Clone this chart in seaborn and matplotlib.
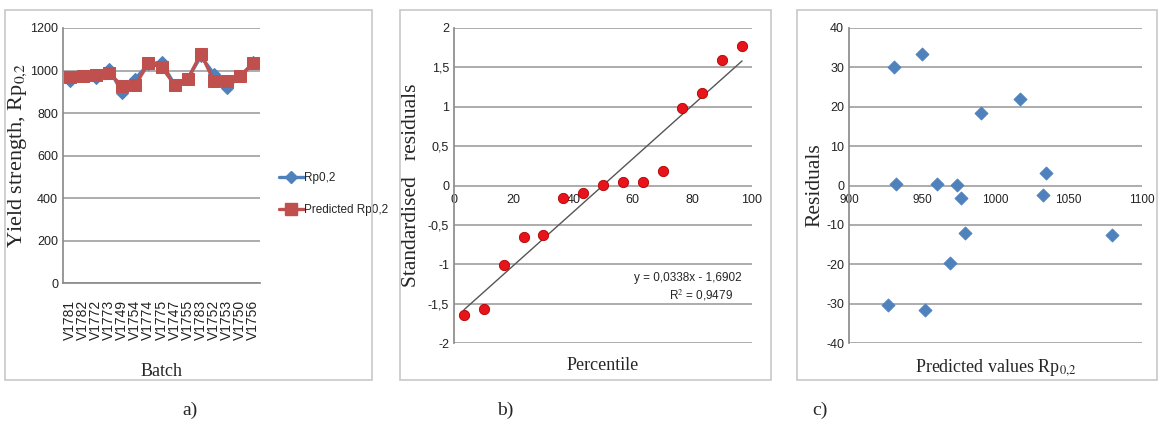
import numpy as np
import pandas as pd
import matplotlib
matplotlib.use("Agg")
import matplotlib.pyplot as plt
from matplotlib.patches import Rectangle
from matplotlib.lines import Line2D
import seaborn as sns

# --- data ---
batches = ["V1781", "V1782", "V1772", "V1773", "V1749", "V1754", "V1774", "V1775",
           "V1747", "V1755", "V1783", "V1752", "V1753", "V1750", "V1756"]
rp02 = [949, 973, 967, 1009, 896, 961, 1030, 1039, 933, 961, 1067, 983, 920, 974, 1038]
rp02_pred = [969, 976, 979, 990, 926, 931, 1033, 1017, 932, 960, 1079, 950, 952, 973, 1034]

percentile = [3.33, 10, 16.67, 23.33, 30, 36.67, 43.33, 50, 56.67, 63.33, 70, 76.67,
              83.33, 90, 96.67]
std_resid = [-1.64, -1.57, -1.01, -0.65, -0.63, -0.155, -0.10, 0.01, 0.04, 0.04, 0.18,
             0.98, 1.17, 1.59, 1.77]

pred_values = [931, 949.5, 932.3, 960.4, 973.4, 976.3, 990.3, 1016.8, 979.2, 968.7,
               926.3, 952, 1032.7, 1034.4, 1079.3]
residuals = [30, 33.5, 0.5, 0.5, 0.1, -3.1, 18.4, 22, -12.1, -19.6, -30.3, -31.6,
             -2.4, 3.3, -12.5]

yticks_a = [0, 200, 400, 600, 800, 1000, 1200]
yticks_b = [-2, -1.5, -1, -0.5, 0, 0.5, 1, 1.5, 2]
xticks_b = [0, 20, 40, 60, 80, 100]
yticks_c = [-40, -30, -20, -10, 0, 10, 20, 30, 40]
xticks_c = [900, 950, 1000, 1050, 1100]

sns.set_theme(style="white")
plt.rcParams["font.family"] = ["Liberation Sans Narrow", "Liberation Sans", "DejaVu Sans"]
plt.rcParams["mathtext.fontset"] = "stix"
plt.rcParams["axes.unicode_minus"] = False

BLUE = "#4F81BD"
RED = "#C0504D"
GRID = "#A6A6A6"
SERIF = ["Liberation Serif", "DejaVu Serif"]

fig = plt.figure(figsize=(11.58, 4.24), dpi=100)

# panel frames
for x0, x1 in [(5, 372), (400, 771), (797, 1157)]:
    fig.patches.append(Rectangle((x0 / 1158, 1 - 380 / 424), (x1 - x0) / 1158, 370 / 424,
                                 transform=fig.transFigure, fill=False,
                                 edgecolor="#C8C8C8", linewidth=1.2))


def style_axes(ax):
    for s in ["top", "right"]:
        ax.spines[s].set_visible(False)
    ax.spines["left"].set_color("#8C8C8C")
    ax.yaxis.grid(True, color=GRID, linewidth=1.3)
    ax.xaxis.grid(False)
    ax.set_axisbelow(True)
    ax.tick_params(axis="both", length=0, labelsize=9, colors="#222222")


def comma(v):
    return f"{v:g}".replace(".", ",")


# --- a) ---
ax1 = fig.add_axes([63 / 1158, 1 - 283 / 424, 197 / 1158, 255 / 424])
df_a = pd.DataFrame({"Batch": batches, "Rp": rp02, "Pred": rp02_pred})
sns.lineplot(data=df_a, x="Batch", y="Rp", sort=False, color=BLUE, linewidth=2.4,
             marker="D", markersize=6, markeredgecolor=BLUE, ax=ax1)
sns.lineplot(data=df_a, x="Batch", y="Pred", sort=False, color=RED, linewidth=2.4,
             marker="s", markersize=8, markeredgecolor=RED, ax=ax1)
style_axes(ax1)
ax1.spines["bottom"].set_color("#8C8C8C")
ax1.set_xlim(-0.5, len(batches) - 0.5)
ax1.set_ylim(0, 1200)
ax1.set_yticks(yticks_a)
ax1.tick_params(axis="x", rotation=90, labelsize=10, pad=12)
ax1.set_xlabel("Batch", fontsize=13, family=SERIF)
ax1.xaxis.set_label_coords(0.5, -0.315)
ax1.set_ylabel("Yield strength, Rp$_{0{,}2}$", fontsize=16, family=SERIF)
ax1.yaxis.set_label_coords(-0.175, 0.5)
handles = [Line2D([], [], color=BLUE, lw=2.4, marker="D", ms=6),
           Line2D([], [], color=RED, lw=2.4, marker="s", ms=8)]
ax1.legend(handles, ["Rp0,2", "Predicted Rp0,2"], loc="center left",
           bbox_to_anchor=(1.04, 0.35), frameon=False, fontsize=8.5,
           handlelength=2.2, labelspacing=1.7, handletextpad=0.0)

# --- b) ---
ax2 = fig.add_axes([454 / 1158, 1 - 343 / 424, 298 / 1158, 315 / 424])
df_b = pd.DataFrame({"Percentile": percentile, "Resid": std_resid})
sns.regplot(data=df_b, x="Percentile", y="Resid", ci=None, scatter=False,
            line_kws={"color": "#555555", "linewidth": 1.0}, ax=ax2)
sns.scatterplot(data=df_b, x="Percentile", y="Resid", color="#E8141B", s=55,
                edgecolor="#B00000", linewidth=0.6, ax=ax2, zorder=3)
style_axes(ax2)
ax2.spines["bottom"].set_position(("data", 0))
ax2.spines["bottom"].set_linewidth(0)
ax2.set_xlim(0, 100)
ax2.set_ylim(-2, 2)
ax2.set_yticks(yticks_b)
ax2.set_yticklabels([comma(v) for v in yticks_b])
ax2.set_xticks(xticks_b)
ax2.tick_params(axis="x", pad=6)
ax2.set_xlabel("Percentile", fontsize=13, family=SERIF)
ax2.xaxis.set_label_coords(0.5, -0.045)
ax2.set_ylabel("Standardised   residuals", fontsize=15.5, family=SERIF)
ax2.yaxis.set_label_coords(-0.11, 0.5)
ax2.text(0.965, 0.205, "y = 0,0338x - 1,6902", transform=ax2.transAxes,
         ha="right", va="center", fontsize=8.5)
ax2.text(0.935, 0.15, "R$^2$ = 0,9479", transform=ax2.transAxes,
         ha="right", va="center", fontsize=8.5)

# --- c) ---
ax3 = fig.add_axes([849 / 1158, 1 - 343 / 424, 293 / 1158, 315 / 424])
df_c = pd.DataFrame({"Pred": pred_values, "Resid": residuals})
sns.scatterplot(data=df_c, x="Pred", y="Resid", color=BLUE, marker="D", s=45,
                edgecolor=BLUE, ax=ax3, zorder=3)
style_axes(ax3)
ax3.spines["bottom"].set_position(("data", 0))
ax3.spines["bottom"].set_linewidth(0)
ax3.set_xlim(900, 1100)
ax3.set_ylim(-40, 40)
ax3.set_yticks(yticks_c)
ax3.set_xticks(xticks_c)
ax3.tick_params(axis="x", pad=6, labelsize=8.5)
ax3.set_xlabel("Predicted values Rp$_{0{,}2}$", fontsize=13, family=SERIF)
ax3.xaxis.set_label_coords(0.5, -0.045)
ax3.set_ylabel("Residuals", fontsize=15.5, family=SERIF)
ax3.yaxis.set_label_coords(-0.085, 0.5)

# panel letters
for x, lab in [(190, "a)"), (505, "b)"), (820, "c)")]:
    fig.text(x / 1158, 1 - 410 / 424, lab, ha="center", va="center",
             fontsize=14, family=SERIF)

fig.savefig("out.png", dpi=100)
